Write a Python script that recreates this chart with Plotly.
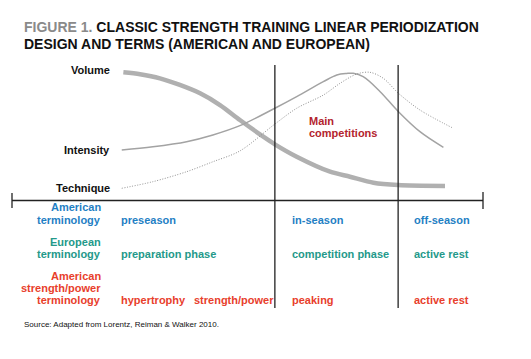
import plotly.graph_objects as go

# ---- data (time in % of season, level in % of max) ----
volume_t = [-0.2, 5.0, 11.2, 17.4, 23.7, 29.9, 36.1, 43.4, 47.0, 53.8, 64.2, 70.4, 77.7, 85.4, 100]
volume_v = [100.6, 98.9, 95.4, 89.7, 82.5, 72.4, 59.5, 45.1, 38.5, 27.8, 14.9, 10.6, 5.4, 3.4, 2.6]

intensity_t = [-0.7, 9.0, 19.5, 27.7, 36.1, 47.0, 53.8, 62.1, 66.3, 69.4, 71.4, 74.5, 79.8, 85.5, 92.2, 99.5]
intensity_v = [33.6, 36.4, 40.8, 46.6, 54.6, 69.6, 79.6, 92.5, 98.3, 99.6, 99.7, 96.8, 83.9, 66.6, 49.4, 35.9]

technique_t = [-0.7, 9.0, 19.5, 27.7, 36.1, 47.0, 53.8, 62.1, 67.3, 72.5, 76.6, 80.8, 85.5, 92.2, 102.6]
technique_v = [0.6, 6.3, 14.9, 23.5, 32.8, 56.0, 69.6, 81.0, 91.1, 99.1, 100.6, 95.4, 82.5, 68.1, 52.3]

phase_bounds = [47.0, 85.4]

curve_labels = ["Volume", "Intensity", "Technique"]
row_labels = [["American", "terminology"],
              ["European", "terminology"],
              ["American", "strength/power", "terminology"]]
american_terms = ["preseason", "in-season", "off-season"]
european_terms = ["preparation phase", "competition phase", "active rest"]
strength_terms = ["hypertrophy", "strength/power", "peaking", "active rest"]

# ---- page geometry (page body has an 8px margin) ----
PAGE_W, PAGE_H, OFF = 531, 359, 8
W, H = PAGE_W - OFF, PAGE_H - OFF

# pixel <-> axis mapping (page pixels)
X0, XS = 124, 3.21   # px of t=0, px per unit
Y0, YS = 189, 1.16   # px of level 0, px per unit
xr = [(OFF - X0) / XS, (PAGE_W - X0) / XS]
yr = [(Y0 - PAGE_H) / YS, (Y0 - OFF) / YS]

def px(x):
    return (x - OFF) / W

def py(y):
    return 1 - (y - OFF) / H

BLUE = "#1f80c4"
TEAL = "#24998a"
RED = "#e8402c"
DARKRED = "#b3242e"
FONT = "Liberation Sans"

fig = go.Figure()
fig.add_trace(go.Scatter(x=volume_t, y=volume_v, mode="lines",
                         line=dict(color="#b0b0b0", width=4.5, shape="spline", smoothing=0.8),
                         hoverinfo="skip"))
fig.add_trace(go.Scatter(x=intensity_t, y=intensity_v, mode="lines",
                         line=dict(color="#a3a3a3", width=1.5, shape="spline", smoothing=1.0),
                         hoverinfo="skip"))
fig.add_trace(go.Scatter(x=technique_t, y=technique_v, mode="lines",
                         line=dict(color="#8f8f8f", width=1, dash="1px,1.6px", shape="spline", smoothing=0.9),
                         hoverinfo="skip"))

shapes = []
LC = dict(color="#222", width=1.3)
for b in phase_bounds:
    shapes.append(dict(type="line", xref="x", yref="paper", x0=b, x1=b,
                       y0=py(308), y1=py(65), line=LC))
shapes.append(dict(type="line", xref="paper", yref="paper", x0=px(12), x1=px(483),
                   y0=py(200.5), y1=py(200.5), line=LC))
shapes.append(dict(type="line", xref="paper", yref="paper", x0=px(12), x1=px(12),
                   y0=py(193), y1=py(208), line=LC))
shapes.append(dict(type="line", xref="paper", yref="paper", x0=px(483), x1=px(483),
                   y0=py(192), y1=py(209), line=LC))

ann = []

def text(s, x, y, color, size=11, anchor="left", bold=True):
    ann.append(dict(text=f"<b>{s}</b>" if bold else s, xref="paper", yref="paper",
                    x=px(x), y=py(y), xanchor=anchor, yanchor="middle", showarrow=False,
                    font=dict(family=FONT, size=size, color=color)))

# title
ann.append(dict(text="<b><span style='color:#8a8a8a'>FIGURE 1.</span> CLASSIC STRENGTH TRAINING LINEAR PERIODIZATION</b>",
                xref="paper", yref="paper", x=px(22), y=py(27), xanchor="left", yanchor="middle",
                showarrow=False, font=dict(family=FONT, size=14, color="#111")))
text("DESIGN AND TERMS (AMERICAN AND EUROPEAN)", 22, 44, "#111", size=14)

# curve labels
for lab, y in zip(curve_labels, [69.5, 150, 188]):
    text(lab, 112, y, "#111", anchor="right")

text("Main", 307, 121, DARKRED)
text("competitions", 307, 133, DARKRED)

# row labels
for lines, ys, col in zip(row_labels, [[207, 219.8], [241.8, 254.3], [276.4, 288.2, 300]],
                          [BLUE, TEAL, RED]):
    for s, y in zip(lines, ys):
        text(s, 103, y, col, anchor="right")

for s, x in zip(american_terms, [119, 290, 411.5]):
    text(s, x, 219.8, BLUE)
for s, x in zip(european_terms, [119, 290, 411.5]):
    text(s, x, 254.3, TEAL)
for s, x in zip(strength_terms, [119, 192, 290, 411.5]):
    text(s, x, 300, RED)

text("Source: Adapted from Lorentz, Reiman &amp; Walker 2010.", 22, 324, "#111", size=8, bold=False)

fig.update_layout(
    width=W, height=H, margin=dict(l=0, r=0, t=0, b=0),
    paper_bgcolor="white", plot_bgcolor="white", showlegend=False,
    xaxis=dict(range=xr, visible=False, fixedrange=True),
    yaxis=dict(range=yr, visible=False, fixedrange=True),
    shapes=shapes, annotations=ann,
)
fig.write_html("out.html")
